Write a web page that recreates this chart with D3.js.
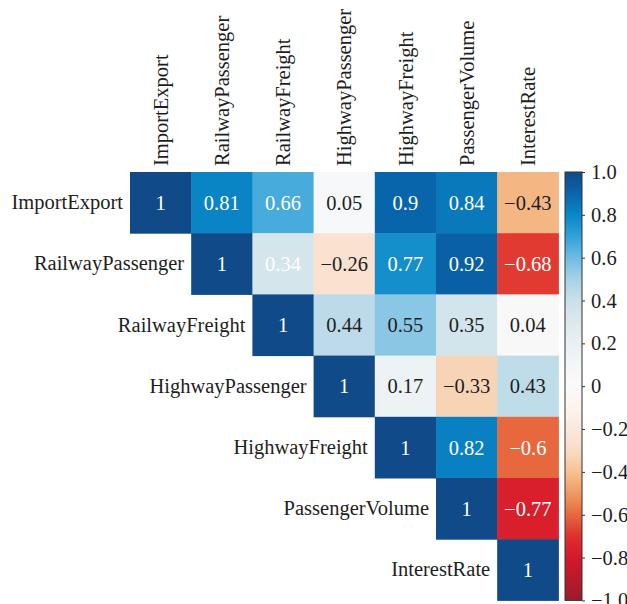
<!DOCTYPE html>
<html>
<head>
<meta charset="utf-8">
<script src="https://cdn.jsdelivr.net/npm/d3@7"></script>
<style>
  html, body { margin: 0; padding: 0; background: #ffffff; }
  svg { display: block; }
  svg text { font-family: "Liberation Serif", "DejaVu Serif", serif; }
</style>
</head>
<body>
<svg id="chart" width="627" height="604"></svg>
<script>
// Variables of the correlation matrix, in display order
const variables = ["ImportExport", "RailwayPassenger", "RailwayFreight", "HighwayPassenger",
                   "HighwayFreight", "PassengerVolume", "InterestRate"];

// Upper-triangle correlation values, one array per row (starting at the diagonal)
const rowImportExport     = [1, 0.81, 0.66, 0.05, 0.9, 0.84, -0.43];
const rowRailwayPassenger = [1, 0.34, -0.26, 0.77, 0.92, -0.68];
const rowRailwayFreight   = [1, 0.44, 0.55, 0.35, 0.04];
const rowHighwayPassenger = [1, 0.17, -0.33, 0.43];
const rowHighwayFreight   = [1, 0.82, -0.6];
const rowPassengerVolume  = [1, -0.77];
const rowInterestRate     = [1];

// Colour bar tick values
const colorbarTicks = [1, 0.8, 0.6, 0.4, 0.2, 0, -0.2, -0.4, -0.6, -0.8, -1];

const rows = [rowImportExport, rowRailwayPassenger, rowRailwayFreight, rowHighwayPassenger,
              rowHighwayFreight, rowPassengerVolume, rowInterestRate];

// Flatten into cells
const cells = [];
rows.forEach((row, i) => {
  row.forEach((v, k) => {
    cells.push({ row: variables[i], col: variables[i + k], value: v });
  });
});

// Layout
const plotLeft = 130, plotTop = 172, plotSize = 428.4;
const cbX = 565, cbW = 17;
const fontSize = 20.5;
const fontStack = "'Liberation Serif', 'DejaVu Serif', serif";
const inkColor = "#1e1e1e";

const svg = d3.select("#chart");

const x = d3.scaleBand().domain(variables).range([plotLeft, plotLeft + plotSize]);
const y = d3.scaleBand().domain(variables).range([plotTop, plotTop + plotSize]);

// Diverging red–blue palette over [-1, 1]
const colorStops = [-1, -0.8, -0.7, -0.6, -0.5, -0.4, -0.3, -0.2, -0.1, 0,
                    0.1, 0.2, 0.3, 0.4, 0.5, 0.6, 0.7, 0.8, 0.9, 1];
const colorRange = ["#9b1c2b", "#d5182a", "#de2e2e", "#e8683d", "#f09a62", "#f6c28f",
                    "#f9dcc8", "#fbe8dd", "#fcf4ef", "#fafafa",
                    "#f4f6f7", "#eaf0f3", "#dde9ee", "#c9e0ea", "#a8d2e7", "#6dbce2",
                    "#2ea2d8", "#0987c7", "#0865ab", "#114a88"];
const color = d3.scaleLinear().domain(colorStops).range(colorRange)
  .interpolate(d3.interpolateRgb).clamp(true);

// Cells whose annotation is drawn in white regardless of background
const whiteLabelOverrides = new Set(["RailwayPassenger|RailwayFreight"]);

function relLum(c) {
  const rgb = d3.rgb(c);
  const f = v => { v /= 255; return v <= 0.03928 ? v / 12.92 : Math.pow((v + 0.055) / 1.055, 2.4); };
  return 0.2126 * f(rgb.r) + 0.7152 * f(rgb.g) + 0.0722 * f(rgb.b);
}

const fmtCell = v => String(v).replace("-", "\u2212");

// Heatmap cells
svg.append("g").selectAll("rect")
  .data(cells)
  .join("rect")
  .attr("x", d => x(d.col))
  .attr("y", d => y(d.row))
  .attr("width", x.bandwidth() + 0.5)
  .attr("height", y.bandwidth() + 0.5)
  .attr("fill", d => color(d.value));

// Annotations
svg.append("g").selectAll("text")
  .data(cells)
  .join("text")
  .attr("x", d => x(d.col) + x.bandwidth() / 2)
  .attr("y", d => y(d.row) + y.bandwidth() / 2)
  .attr("dy", "0.35em")
  .attr("text-anchor", "middle")
  .style("font-family", fontStack)
  .style("font-size", fontSize + "px")
  .attr("fill", d => (relLum(color(d.value)) < 0.408 || whiteLabelOverrides.has(d.row + "|" + d.col)) ? "#ffffff" : inkColor)
  .text(d => fmtCell(d.value));

// Row labels, each placed just left of its diagonal cell
const yAxis = svg.append("g")
  .call(d3.axisLeft(y).tickSize(0).tickPadding(0));
yAxis.select(".domain").remove();
yAxis.selectAll(".tick")
  .attr("transform", d => `translate(${x(d) - 7},${y(d) + y.bandwidth() / 2})`);
yAxis.selectAll("text")
  .attr("x", 0)
  .style("font-family", fontStack)
  .style("font-size", fontSize + "px")
  .attr("fill", inkColor);

// Column labels (top, rotated)
const xAxis = svg.append("g")
  .attr("transform", `translate(0,${plotTop})`)
  .call(d3.axisTop(x).tickSize(0).tickPadding(0));
xAxis.select(".domain").remove();
xAxis.selectAll("text")
  .style("font-family", fontStack)
  .style("font-size", fontSize + "px")
  .attr("fill", inkColor)
  .attr("text-anchor", "start")
  .attr("transform", "translate(0,-6) rotate(-90)")
  .attr("x", 0)
  .attr("y", 0)
  .attr("dy", "0.35em");

// Colour bar
const cbScale = d3.scaleLinear().domain([-1, 1]).range([plotTop + plotSize, plotTop]);
const defs = svg.append("defs");
const grad = defs.append("linearGradient")
  .attr("id", "cbGrad")
  .attr("x1", 0).attr("y1", 1).attr("x2", 0).attr("y2", 0);
grad.selectAll("stop")
  .data(d3.range(0, 1.0001, 0.02))
  .join("stop")
  .attr("offset", t => t)
  .attr("stop-color", t => color(-1 + 2 * t));

svg.append("rect")
  .attr("x", cbX)
  .attr("y", cbScale(1))
  .attr("width", cbW)
  .attr("height", cbScale(-1) - cbScale(1))
  .attr("fill", "url(#cbGrad)")
  .attr("stroke", "#333333")
  .attr("stroke-width", 1);

const cbAxis = svg.append("g")
  .attr("transform", `translate(${cbX + cbW},0)`)
  .call(d3.axisRight(cbScale)
    .tickValues(colorbarTicks)
    .tickSize(3)
    .tickPadding(6)
    .tickFormat(v => v === 0 ? "0" : d3.format(".1f")(v)));
cbAxis.select(".domain").remove();
cbAxis.selectAll("line").attr("stroke", "#333333");
cbAxis.selectAll("text")
  .style("font-family", fontStack)
  .style("font-size", fontSize + "px")
  .attr("fill", inkColor);
</script>
</body>
</html>
